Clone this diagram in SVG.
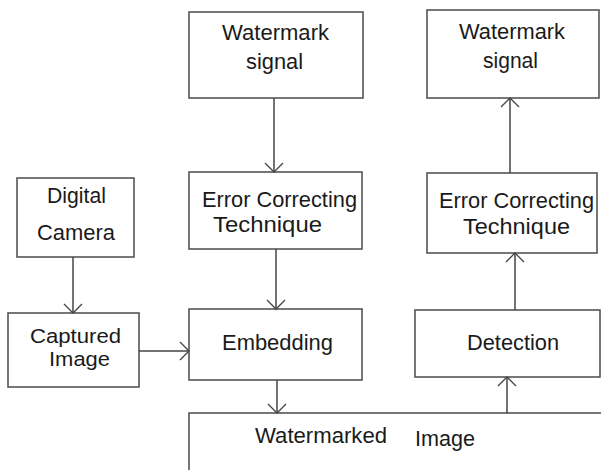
<svg xmlns="http://www.w3.org/2000/svg" width="601" height="470" viewBox="0 0 601 470">
<style>
.box{fill:#fff;stroke:#555;stroke-width:1.6}
.t{font-family:"Liberation Sans",Arial,sans-serif;font-size:22px;fill:#1a1a1a}
.s{font-size:20.5px}
.c{stroke:#444;stroke-width:1.5;fill:none}
</style>
<defs>
<marker id="ah" markerUnits="userSpaceOnUse" markerWidth="24" markerHeight="24" refX="0" refY="0" viewBox="-12 -12 24 24" orient="auto" overflow="visible">
<path d="M-9,-9 L0,0 L-9,9" fill="none" stroke="#444" stroke-width="1.3"/>
</marker>
</defs>
<rect width="601" height="470" fill="#fff"/>
<g id="camera"><rect class="box" x="17" y="178" width="117" height="79"/>
<text class="t" x="47" y="203" textLength="59" lengthAdjust="spacingAndGlyphs">Digital</text>
<text class="t" x="37" y="240" textLength="78" lengthAdjust="spacingAndGlyphs">Camera</text></g>
<g id="captured"><rect class="box" x="8" y="313" width="131" height="74"/>
<text class="t s" x="30" y="343" textLength="91" lengthAdjust="spacingAndGlyphs">Captured</text>
<text class="t s" x="49" y="366" textLength="61" lengthAdjust="spacingAndGlyphs">Image</text></g>
<g id="wm-left"><rect class="box" x="189" y="12" width="174" height="86"/>
<text class="t" x="222" y="40" textLength="107" lengthAdjust="spacingAndGlyphs">Watermark</text>
<text class="t" x="246" y="69" textLength="57" lengthAdjust="spacingAndGlyphs">signal</text></g>
<g id="ecc-left"><rect class="box" x="189" y="172" width="173" height="77"/>
<text class="t" x="202" y="207" textLength="155" lengthAdjust="spacingAndGlyphs">Error Correcting</text>
<text class="t" x="213" y="231.5" textLength="109" lengthAdjust="spacingAndGlyphs">Technique</text></g>
<g id="embedding"><rect class="box" x="189" y="309" width="173" height="71"/>
<text class="t" x="222" y="349.5" textLength="111" lengthAdjust="spacingAndGlyphs">Embedding</text></g>
<g id="wm-right"><rect class="box" x="427" y="10" width="172" height="88"/>
<text class="t" x="459" y="39" textLength="106" lengthAdjust="spacingAndGlyphs">Watermark</text>
<text class="t" x="483" y="68" textLength="55" lengthAdjust="spacingAndGlyphs">signal</text></g>
<g id="ecc-right"><rect class="box" x="427" y="173" width="170" height="80"/>
<text class="t" x="439" y="208" textLength="155" lengthAdjust="spacingAndGlyphs">Error Correcting</text>
<text class="t" x="463" y="234" textLength="107" lengthAdjust="spacingAndGlyphs">Technique</text></g>
<g id="detection"><rect class="box" x="415" y="310" width="185" height="67"/>
<text class="t" x="467" y="350" textLength="92" lengthAdjust="spacingAndGlyphs">Detection</text></g>
<g id="watermarked"><rect class="box" x="189" y="413" width="440" height="80"/>
<text class="t" x="255" y="443" textLength="132" lengthAdjust="spacingAndGlyphs">Watermarked</text>
<text class="t" x="415" y="445.5" textLength="60" lengthAdjust="spacingAndGlyphs">Image</text></g>
<g id="connectors">
<line class="c" x1="73" y1="257" x2="73" y2="313" marker-end="url(#ah)"/>
<line class="c" x1="139" y1="351" x2="189" y2="351" marker-end="url(#ah)"/>
<line class="c" x1="274" y1="98" x2="274" y2="172" marker-end="url(#ah)"/>
<line class="c" x1="276" y1="249" x2="276" y2="309" marker-end="url(#ah)"/>
<line class="c" x1="277" y1="380" x2="277" y2="413" marker-end="url(#ah)"/>
<line class="c" x1="507" y1="413" x2="507" y2="377" marker-end="url(#ah)"/>
<line class="c" x1="515" y1="310" x2="515" y2="253" marker-end="url(#ah)"/>
<line class="c" x1="510" y1="173" x2="510" y2="98" marker-end="url(#ah)"/>
</g>
</svg>
